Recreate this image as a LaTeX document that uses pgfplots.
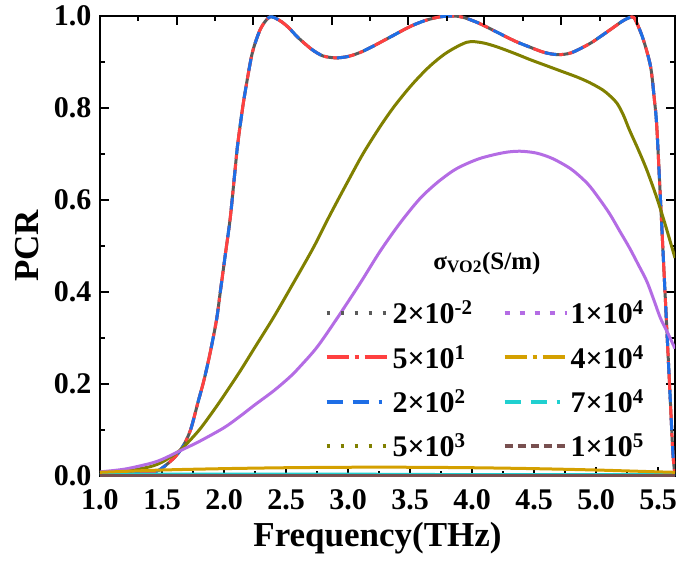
\documentclass[border=0pt]{standalone}
\usepackage{fontspec}
\setmainfont{Liberation Serif}
\usepackage{pgfplots}
\pgfplotsset{compat=1.18}
\definecolor{cgray}{RGB}{90,90,90}
\definecolor{cred}{RGB}{255,64,64}
\definecolor{cblue}{RGB}{30,110,230}
\definecolor{colive}{RGB}{128,128,0}
\definecolor{cpurple}{RGB}{180,108,228}
\definecolor{cgold}{RGB}{212,160,0}
\definecolor{ccyan}{RGB}{32,208,208}
\definecolor{cbrown}{RGB}{120,80,80}
\begin{document}
\begin{tikzpicture}
\path[use as bounding box] (-100pt,-86pt) rectangle (585pt,476pt);
\begin{axis}[at={(0,0)}, anchor=south west, scale only axis,
  width=575pt, height=460pt,
  xmin=1, xmax=5.637, ymin=0, ymax=1,
  xtick={1,1.5,...,5.5}, minor x tick num=1,
  ytick={0,0.2,...,1.0}, minor y tick num=1,
  xtick pos=left,
  tick align=inside, major tick length=9pt, minor tick length=5pt,
  axis line style={line width=2.5pt}, tick style={line width=2pt, black},
  tick label style={font=\fontsize{30}{30}\selectfont\bfseries},
  xticklabel style={yshift=-10pt},
  yticklabel style={xshift=-5pt},
  /pgf/number format/.cd, fixed, fixed zerofill, precision=1, assume math mode=true,
  /pgfplots/.cd,
  xlabel={Frequency(THz)}, ylabel={PCR},
  label style={font=\fontsize{35}{35}\selectfont\bfseries},
  xlabel style={yshift=-5pt, xshift=-10pt},
  ylabel style={yshift=8pt},
  legend image code/.code={\draw[#1] (0pt,0pt) -- (62pt,0pt);},
  legend columns=2,
  legend cell align=left,
  legend style={at={(0.385,0.39)}, anchor=north west, draw=none, fill=none,
    font=\fontsize{30}{30}\selectfont\bfseries, row sep=16pt,
    /tikz/every even column/.append style={column sep=28pt}},
]
% 2e-2 (hidden under red/blue)
\addplot[cgray, line width=3pt, smooth, forget plot] coordinates {
(1.0,0.003)(1.2,0.004)(1.35,0.006)(1.45,0.010)(1.5,0.017)(1.6,0.04)(1.67,0.065)(1.73,0.10)(1.79,0.16)(1.84,0.21)(1.89,0.27)(1.94,0.34)(1.97,0.40)(2.01,0.48)(2.05,0.56)(2.08,0.64)(2.11,0.72)(2.15,0.80)(2.18,0.85)(2.22,0.91)(2.25,0.94)(2.30,0.975)(2.37,0.998)(2.45,0.99)(2.52,0.975)(2.59,0.955)(2.66,0.938)(2.72,0.925)(2.80,0.913)(2.90,0.909)(3.00,0.912)(3.10,0.921)(3.20,0.934)(3.36,0.957)(3.50,0.977)(3.62,0.99)(3.74,0.998)(3.85,1.0)(3.93,0.997)(4.05,0.985)(4.20,0.965)(4.35,0.945)(4.47,0.932)(4.58,0.921)(4.69,0.916)(4.80,0.92)(4.95,0.94)(5.05,0.958)(5.14,0.975)(5.22,0.99)(5.29,0.998)(5.32,0.99)(5.38,0.95)(5.44,0.89)(5.47,0.82)(5.49,0.76)(5.52,0.60)(5.54,0.49)(5.56,0.38)(5.58,0.27)(5.60,0.16)(5.62,0.05)(5.637,0.0)};
% 5e1
\addplot[cred, line width=3pt, smooth, dash pattern=on 22pt off 5pt on 4pt off 5pt, forget plot] coordinates {
(1.0,0.003)(1.2,0.004)(1.35,0.006)(1.45,0.010)(1.5,0.017)(1.6,0.04)(1.67,0.065)(1.73,0.10)(1.79,0.16)(1.84,0.21)(1.89,0.27)(1.94,0.34)(1.97,0.40)(2.01,0.48)(2.05,0.56)(2.08,0.64)(2.11,0.72)(2.15,0.80)(2.18,0.85)(2.22,0.91)(2.25,0.94)(2.30,0.975)(2.37,0.998)(2.45,0.99)(2.52,0.975)(2.59,0.955)(2.66,0.938)(2.72,0.925)(2.80,0.913)(2.90,0.909)(3.00,0.912)(3.10,0.921)(3.20,0.934)(3.36,0.957)(3.50,0.977)(3.62,0.99)(3.74,0.998)(3.85,1.0)(3.93,0.997)(4.05,0.985)(4.20,0.965)(4.35,0.945)(4.47,0.932)(4.58,0.921)(4.69,0.916)(4.80,0.92)(4.95,0.94)(5.05,0.958)(5.14,0.975)(5.22,0.99)(5.29,0.998)(5.32,0.99)(5.38,0.95)(5.44,0.89)(5.47,0.82)(5.49,0.76)(5.52,0.60)(5.54,0.49)(5.56,0.38)(5.58,0.27)(5.60,0.16)(5.62,0.05)(5.637,0.0)};
% 2e2
\addplot[cblue, line width=3pt, smooth, dash pattern=on 12pt off 16pt, forget plot] coordinates {
(1.0,0.003)(1.2,0.004)(1.35,0.006)(1.45,0.010)(1.5,0.017)(1.6,0.04)(1.67,0.065)(1.73,0.10)(1.79,0.16)(1.84,0.21)(1.89,0.27)(1.94,0.34)(1.97,0.40)(2.01,0.48)(2.05,0.56)(2.08,0.64)(2.11,0.72)(2.15,0.80)(2.18,0.85)(2.22,0.91)(2.25,0.94)(2.30,0.975)(2.37,0.998)(2.45,0.99)(2.52,0.975)(2.59,0.955)(2.66,0.938)(2.72,0.925)(2.80,0.913)(2.90,0.909)(3.00,0.912)(3.10,0.921)(3.20,0.934)(3.36,0.957)(3.50,0.977)(3.62,0.99)(3.74,0.998)(3.85,1.0)(3.93,0.997)(4.05,0.985)(4.20,0.965)(4.35,0.945)(4.47,0.932)(4.58,0.921)(4.69,0.916)(4.80,0.92)(4.95,0.94)(5.05,0.958)(5.14,0.975)(5.22,0.99)(5.29,0.998)(5.32,0.99)(5.38,0.95)(5.44,0.89)(5.47,0.82)(5.49,0.76)(5.52,0.60)(5.54,0.49)(5.56,0.38)(5.58,0.27)(5.60,0.16)(5.62,0.05)(5.637,0.0)};
% 5e3
\addplot[colive, line width=3pt, smooth, forget plot] coordinates {
(1.0,0.005)(1.2,0.01)(1.4,0.02)(1.5,0.03)(1.6,0.047)(1.67,0.062)(1.8,0.10)(1.91,0.14)(2.0,0.175)(2.13,0.228)(2.25,0.28)(2.40,0.345)(2.55,0.415)(2.72,0.496)(2.85,0.565)(2.99,0.636)(3.12,0.70)(3.26,0.76)(3.38,0.806)(3.52,0.852)(3.66,0.891)(3.80,0.921)(3.96,0.943)(4.08,0.942)(4.20,0.933)(4.35,0.918)(4.47,0.905)(4.60,0.892)(4.73,0.879)(4.85,0.867)(4.95,0.855)(5.05,0.84)(5.11,0.827)(5.17,0.81)(5.22,0.785)(5.27,0.752)(5.34,0.71)(5.41,0.665)(5.49,0.605)(5.56,0.545)(5.637,0.474)};
% 1e4
\addplot[cpurple, line width=3pt, smooth, forget plot] coordinates {
(1.0,0.009)(1.2,0.015)(1.4,0.027)(1.5,0.036)(1.67,0.058)(1.8,0.075)(2.0,0.105)(2.13,0.13)(2.25,0.155)(2.40,0.185)(2.53,0.215)(2.61,0.237)(2.75,0.28)(2.91,0.342)(3.1,0.42)(3.26,0.489)(3.42,0.55)(3.58,0.603)(3.72,0.638)(3.85,0.664)(3.95,0.678)(4.06,0.69)(4.17,0.698)(4.28,0.704)(4.39,0.706)(4.52,0.702)(4.65,0.69)(4.80,0.667)(4.93,0.636)(5.02,0.605)(5.11,0.57)(5.19,0.533)(5.27,0.496)(5.34,0.46)(5.41,0.423)(5.47,0.38)(5.52,0.343)(5.58,0.31)(5.637,0.277)};
% 7e4
\addplot[ccyan, line width=3pt, smooth, forget plot] coordinates {
(1.0,0.004)(2.0,0.004)(3.0,0.004)(4.0,0.003)(5.0,0.003)(5.637,0.003)};
% 1e5
\addplot[cbrown, line width=3pt, smooth, forget plot] coordinates {
(1.0,0.001)(2.0,0.001)(3.0,0.001)(4.0,0.001)(5.0,0.001)(5.637,0.001)};
% 4e4
\addplot[cgold, line width=3pt, smooth, forget plot] coordinates {
(1.0,0.008)(1.5,0.013)(2.0,0.016)(2.5,0.018)(3.0,0.019)(3.5,0.019)(4.0,0.018)(4.5,0.016)(5.0,0.013)(5.5,0.009)(5.637,0.008)};
% legend (row-wise order)
\addlegendimage{cgray, line width=4pt, dash pattern=on 3pt off 11pt}
\addlegendentry{2×10\textsuperscript{-2}}
\addlegendimage{cpurple, line width=4pt, dash pattern=on 5pt off 10pt}
\addlegendentry{1×10\textsuperscript{4}}
\addlegendimage{cred, line width=4pt, dash pattern=on 22pt off 6pt on 4pt off 6pt}
\addlegendentry{5×10\textsuperscript{1}}
\addlegendimage{cgold, line width=4pt, dash pattern=on 22pt off 6pt on 4pt off 6pt}
\addlegendentry{4×10\textsuperscript{4}}
\addlegendimage{cblue, line width=4pt, dash pattern=on 16pt off 10pt on 16pt off 10pt on 3pt off 10pt}
\addlegendentry{2×10\textsuperscript{2}}
\addlegendimage{ccyan, line width=4pt, dash pattern=on 16pt off 10pt on 16pt off 10pt on 3pt off 10pt}
\addlegendentry{7×10\textsuperscript{4}}
\addlegendimage{colive, line width=4pt, dash pattern=on 3pt off 11pt}
\addlegendentry{5×10\textsuperscript{3}}
\addlegendimage{cbrown, line width=4pt, dash pattern=on 8pt off 5pt}
\addlegendentry{1×10\textsuperscript{5}}
\node[font=\fontsize{25}{25}\selectfont\bfseries] at (axis cs:4.12,0.463) {σ\textsubscript{VO2}(S/m)};
\end{axis}
\begin{axis}[at={(0,0)}, anchor=south west, scale only axis,
  width=575pt, height=460pt,
  xmin=1, xmax=5.637, ymin=0, ymax=1,
  axis x line*=top, axis y line=none,
  axis line style={draw=none},
  xtick={1.621,2.234,2.871,3.484,4.097,4.718,5.331},
  minor xtick={1.306,1.927,2.548,3.177,3.798,4.411,5.032},
  xticklabels={},
  tick align=inside, major tick length=9pt, minor tick length=5pt,
  tick style={line width=2pt, black},
]
\end{axis}
\end{tikzpicture}
\end{document}
